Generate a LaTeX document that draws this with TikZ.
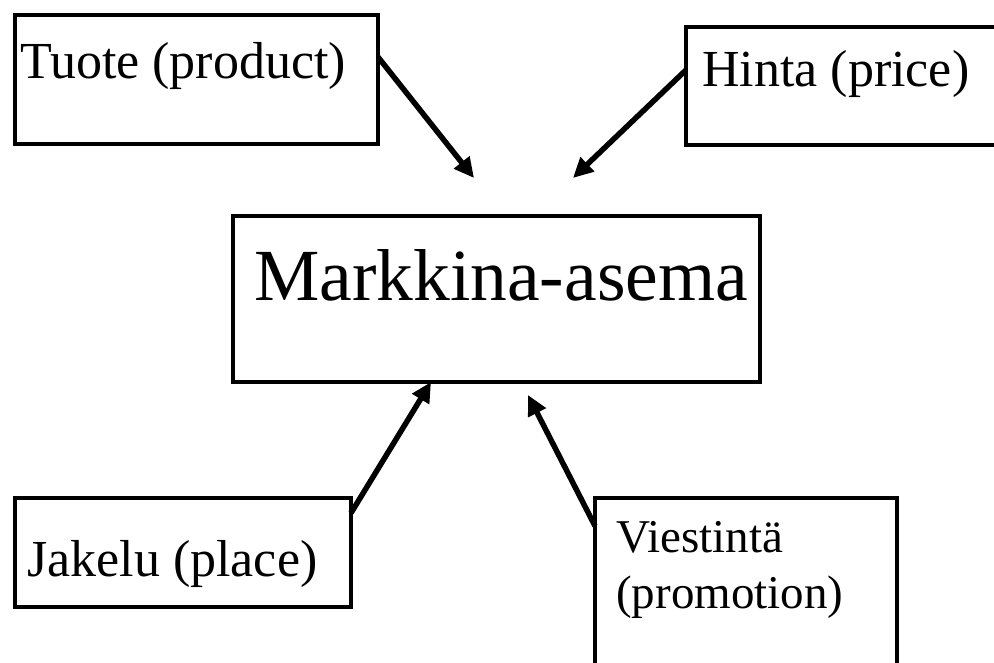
\documentclass[tikz,border=0pt]{standalone}
\usepackage{fontspec}
\setmainfont{Liberation Serif}
\usetikzlibrary{arrows.meta}
\tikzset{
  boxnode/.style={draw=black, line width=4pt, rectangle, inner sep=0pt, outer sep=0pt, anchor=north west},
  lbl/.style={inner sep=0pt, anchor=base west, font=\fontsize{52}{60}\selectfont},
  conn/.style={line width=5.5pt, -{Triangle[length=20pt,width=19pt]}}
}
\begin{document}
\begin{tikzpicture}[x=1pt,y=-1pt]
\useasboundingbox (0,0) rectangle (994,663);
\clip (0,0) rectangle (994,663);
% boxes
\node[boxnode, minimum width=363pt, minimum height=129pt] (tuote) at (15,15) {};
\node[boxnode, minimum width=330pt, minimum height=118pt] (hinta) at (686,27) {};
\node[boxnode, minimum width=527pt, minimum height=166pt] (markkina) at (233,216) {};
\node[boxnode, minimum width=336pt, minimum height=109pt] (jakelu) at (15,498) {};
\node[boxnode, minimum width=302pt, minimum height=200pt] (viestinta) at (595,498) {};
% texts
\node[lbl] (tTuote) at (20,79) {Tuote (product)};
\node[lbl] (tHinta) at (702,87) {Hinta (price)};
\node[lbl, font=\fontsize{73.5}{80}\selectfont] (tMark) at (254,301) {Markkina-asema};
\node[lbl] (tJakelu) at (27,576) {Jakelu (place)};
\node[lbl, font=\fontsize{47}{56}\selectfont] (tV1) at (616,552) {Viestintä};
\node[lbl, font=\fontsize{47}{56}\selectfont] (tV2) at (616,608) {(promotion)};
% free connector ends
\coordinate (a1e) at (474,178);
\coordinate (a2e) at (573,178);
\coordinate (a4e) at (528,395);
% connectors
\draw[conn] ([yshift=22.5pt]tuote.east) -- (a1e);
\draw[conn] ([yshift=16pt]hinta.west) -- (a2e);
\draw[conn] ([yshift=39.5pt]jakelu.east) -- ([xshift=-65.5pt]markkina.south);
\draw[conn] ([yshift=72pt]viestinta.west) -- (a4e);
\end{tikzpicture}
\end{document}
